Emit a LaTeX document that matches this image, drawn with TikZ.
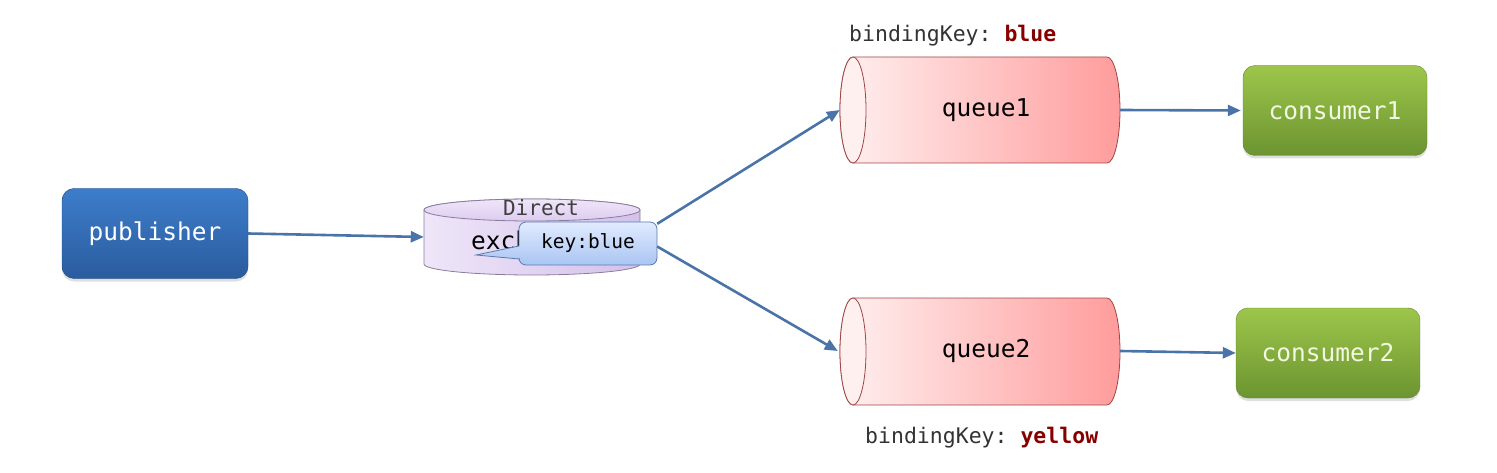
\documentclass[tikz,border=0pt]{standalone}
\usepackage{fontspec}
\setmonofont{DejaVu Sans Mono}
\usetikzlibrary{arrows.meta,shadows}
\definecolor{arrowc}{HTML}{4A74A8}
\definecolor{pubtop}{HTML}{3D7DCB}
\definecolor{pubbot}{HTML}{2A5C9E}
\definecolor{contop}{HTML}{9DC64B}
\definecolor{conbot}{HTML}{6C9431}
\definecolor{contxt}{HTML}{F2FAE2}
\definecolor{exlight}{HTML}{EFE6F9}
\definecolor{exdark}{HTML}{D3C1EA}
\definecolor{exline}{HTML}{8C7C9C}
\definecolor{qleft}{HTML}{FFF0F0}
\definecolor{qright}{HTML}{FF9C9C}
\definecolor{qline}{HTML}{A04545}
\definecolor{caltop}{HTML}{E2EBFF}
\definecolor{calbot}{HTML}{A9C5F2}
\definecolor{calline}{HTML}{5A7AB2}
\definecolor{keytxt}{HTML}{333333}
\definecolor{keyval}{HTML}{860000}
\tikzset{
  flow/.style={draw=arrowc, line width=2.6pt, -{Triangle[length=13pt,width=11pt]}},
  boxbase/.style={rounded corners=12pt, minimum width=186pt, minimum height=90pt, inner sep=0pt,
     font=\ttfamily\fontsize{24.5}{27}\selectfont,
     drop shadow={shadow xshift=0pt, shadow yshift=-3pt, opacity=0.25}},
  pubbox/.style={boxbase, top color=pubtop, bottom color=pubbot, draw=pubbot!80!black, text=white},
  conbox/.style={boxbase, minimum width=184pt, top color=contop, bottom color=conbot, draw=conbot!90!black, text=contxt},
  area/.style={inner sep=0pt, minimum width=#1},
  lbl/.style={font=\ttfamily\fontsize{21.5}{24}\selectfont, text=keytxt, inner sep=0pt}
}
\begin{document}
\begin{tikzpicture}[x=1pt,y=-1pt]
\useasboundingbox (0,0) rectangle (1497,473);

% publisher
\node[pubbox] (pub) at (155,233.5) {publisher};

% consumers
\node[conbox] (c1) at (1335,110.5) {consumer1};
\node[conbox] (c2) at (1328,353) {consumer2};

% exchange cylinder
\shade[left color=exlight, right color=exdark, draw=exline, line width=0.8pt]
  (424,210) -- (424,264) arc[start angle=180, end angle=360, x radius=108pt, y radius=11pt]
  -- (640,210) arc[start angle=0, end angle=180, x radius=108pt, y radius=11pt] -- cycle;
\shade[top color=exlight, bottom color=exdark!70!exlight, draw=exline, line width=0.8pt]
  (532,210) ellipse[x radius=108pt, y radius=11pt];
\node[area=216pt, minimum height=76pt] (ex) at (532,237) {};
\node[font=\ttfamily\fontsize{21}{24}\selectfont, text=black!75, inner sep=0pt] (dir) at (541,208) {Direct};
\node[font=\ttfamily\fontsize{24.5}{26}\selectfont, inner sep=0pt, anchor=west] (exname) at (471,243) {exchange};

% callout
\shade[top color=caltop, bottom color=calbot, draw=calline, line width=0.8pt]
  [rounded corners=7pt] (519,246) -- (519,222) -- (657,222) -- (657,265) -- (519,265)
  [sharp corners] -- (519,259) -- (476,255) -- cycle;
\node[font=\ttfamily\fontsize{19.5}{22}\selectfont, inner sep=0pt, minimum width=138pt, minimum height=43pt] (key) at (588,243.5) {key:blue};

% queue1
\node[area=280pt, minimum height=106pt] (q1) at (980,110) {};
\shade[left color=qleft, right color=qright, draw=qline, line width=0.8pt]
  (853,57) -- (1107,57) arc[start angle=90, end angle=-90, x radius=13pt, y radius=53pt]
  -- (853,163) arc[start angle=270, end angle=90, x radius=13pt, y radius=53pt] -- cycle;
\fill[qleft] (853,110) ellipse[x radius=13pt, y radius=53pt];
\draw[qline, line width=0.8pt] (853,110) ellipse[x radius=13pt, y radius=53pt];
\node[font=\ttfamily\fontsize{24.5}{26}\selectfont, inner sep=0pt] (q1t) at (986,110) {queue1};

% queue2
\node[area=280pt, minimum height=107pt] (q2) at (980,351) {};
\shade[left color=qleft, right color=qright, draw=qline, line width=0.8pt]
  (853,298) -- (1107,298) arc[start angle=90, end angle=-90, x radius=13pt, y radius=53.5pt]
  -- (853,405) arc[start angle=270, end angle=90, x radius=13pt, y radius=53.5pt] -- cycle;
\fill[qleft] (853,351.5) ellipse[x radius=13pt, y radius=53.5pt];
\draw[qline, line width=0.8pt] (853,351.5) ellipse[x radius=13pt, y radius=53.5pt];
\node[font=\ttfamily\fontsize{24.5}{26}\selectfont, inner sep=0pt] (q2t) at (986,351) {queue2};

% binding key labels
\node[lbl, anchor=west] (bk1) at (849,36) {bindingKey: \textcolor{keyval}{\bfseries blue}};
\node[lbl, anchor=west] (bk2) at (865,438) {bindingKey: \textcolor{keyval}{\bfseries yellow}};

% connectors
\draw[flow] (pub.east) -- (ex.west);
\draw[flow] ([yshift=-2pt]key.north east) -- (q1.west);
\draw[flow] ([yshift=-3pt]key.east) -- ([xshift=-2pt]q2.west);
\draw[flow] (q1.east) -- ([xshift=-2pt]c1.west);
\draw[flow] (q2.east) -- (c2.west);
\end{tikzpicture}
\end{document}
